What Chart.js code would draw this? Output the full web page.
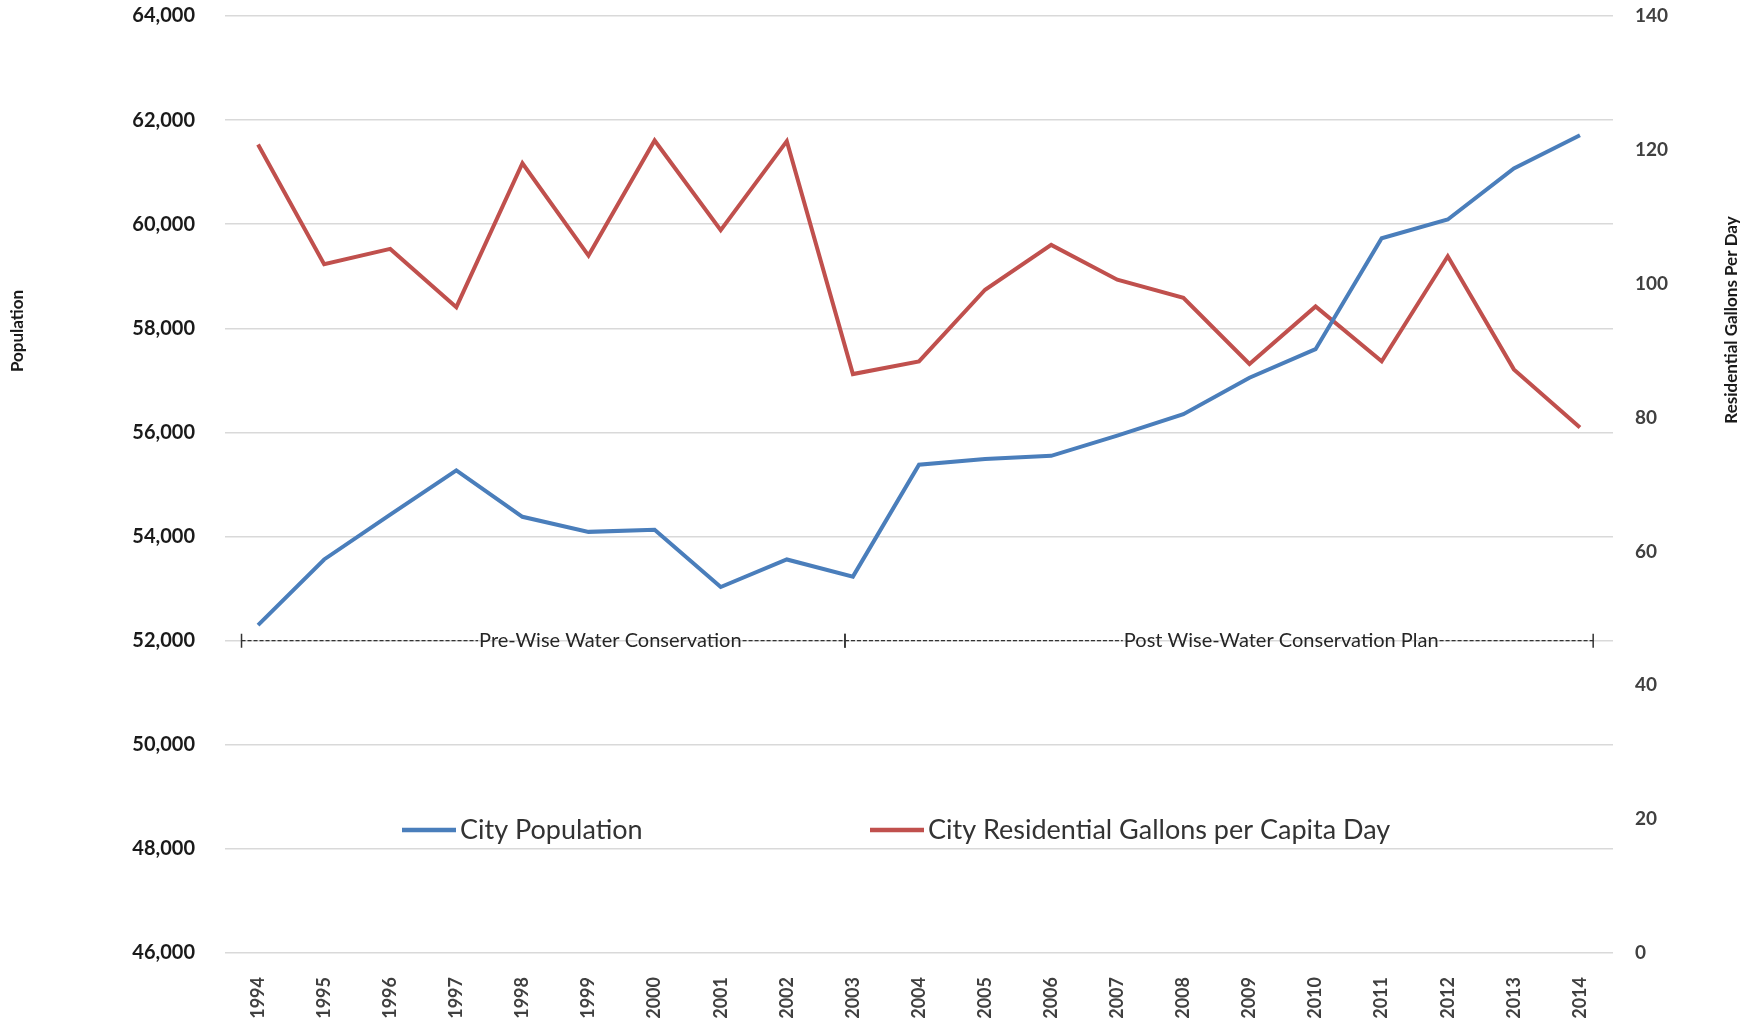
<!DOCTYPE html>
<html>
<head>
<meta charset="utf-8">
<script src="https://cdn.jsdelivr.net/npm/chart.js@4.4.1/dist/chart.umd.min.js"></script>
<style>
html, body { margin: 0; padding: 0; background: #fff; }
</style>
</head>
<body>
<canvas id="lineChart" width="1743" height="1028"></canvas>
<script>
const years = ["1994", "1995", "1996", "1997", "1998", "1999", "2000", "2001", "2002", "2003", "2004",
    "2005", "2006", "2007", "2008", "2009", "2010", "2011", "2012", "2013", "2014"];
const population = [52300, 53560, 54420, 55270, 54380, 54090, 54130, 53030, 53560, 53230, 55380,
    55490, 55550, 55940, 56350, 57050, 57600, 59730, 60090, 61070, 61710];
const gallons = [120.8, 102.9, 105.2, 96.5, 118.0, 104.2, 121.4, 108.0, 121.3, 86.5, 88.4,
    99.1, 105.8, 100.6, 97.9, 88.0, 96.6, 88.4, 104.1, 87.2, 78.5];
const seriesNames = ["City Population", "City Residential Gallons per Capita Day"];
const phaseNames = ["Pre-Wise Water Conservation", "Post Wise-Water Conservation Plan"];

// phase markers in category units: [start, end, text centre], drawn at the 52,000 level
const phases = [[-0.25, 8.88, 5.33], [8.88, 20.2, 15.48]];
const phaseLevel = 52000;

const BLUE = "#4a7ebb";
const RED = "#c0504d";

const overlay = {
    id: "overlay",
    afterDatasetsDraw(chart) {
        const ctx = chart.ctx;
        const x = chart.scales.x;
        const y = chart.scales.y.getPixelForValue(phaseLevel);
        ctx.save();
        ctx.font = "20px Lato";
        ctx.textBaseline = "middle";
        ctx.textAlign = "center";
        ctx.strokeStyle = "#333333";
        ctx.fillStyle = "#262626";
        for (let i = 0; i < phases.length; i++) {
            const x0 = x.getPixelForValue(phases[i][0]);
            const x1 = x.getPixelForValue(phases[i][1]);
            const xc = x.getPixelForValue(phases[i][2]);
            const w = ctx.measureText(phaseNames[i]).width;
            ctx.lineWidth = 1.2;
            ctx.setLineDash([4, 2]);
            ctx.beginPath();
            ctx.moveTo(x0, y); ctx.lineTo(xc - w / 2 - 1, y);
            ctx.moveTo(xc + w / 2 + 1, y); ctx.lineTo(x1, y);
            ctx.stroke();
            ctx.setLineDash([]);
            ctx.lineWidth = 1.5;
            ctx.beginPath();
            ctx.moveTo(x0, y - 7); ctx.lineTo(x0, y + 7);
            ctx.moveTo(x1, y - 7); ctx.lineTo(x1, y + 7);
            ctx.stroke();
            ctx.fillText(phaseNames[i], xc, y);
        }
        ctx.restore();
    },
    afterDraw(chart) {
        const ctx = chart.ctx;
        ctx.save();
        // legend
        const legendY = 830;
        const items = [[402, BLUE], [870, RED]];
        ctx.font = "27px Lato";
        ctx.textBaseline = "middle";
        ctx.textAlign = "left";
        for (let i = 0; i < items.length; i++) {
            ctx.strokeStyle = items[i][1];
            ctx.lineWidth = 4.5;
            ctx.beginPath();
            ctx.moveTo(items[i][0], legendY);
            ctx.lineTo(items[i][0] + 54, legendY);
            ctx.stroke();
            ctx.fillStyle = "#333333";
            ctx.fillText(seriesNames[i], items[i][0] + 58, legendY);
        }
        // axis titles
        ctx.font = "bold 17px Lato";
        ctx.fillStyle = "#1a1a1a";
        ctx.textAlign = "center";
        ctx.translate(18, 331);
        ctx.rotate(-Math.PI / 2);
        ctx.fillText("Population", 0, 0);
        ctx.restore();
        ctx.save();
        ctx.font = "bold 17px Lato";
        ctx.fillStyle = "#1a1a1a";
        ctx.textAlign = "center";
        ctx.textBaseline = "middle";
        ctx.translate(1732, 320);
        ctx.rotate(-Math.PI / 2);
        ctx.fillText("Residential Gallons Per Day", 0, 0);
        ctx.restore();
    }
};

const CHART = document.getElementById("lineChart");

let lineChart = new Chart(CHART, {
    type: "line",
    data: {
        labels: years,
        datasets: [{
            label: seriesNames[0],
            data: population,
            yAxisID: "y",
            borderColor: BLUE,
            borderWidth: 4,
            pointRadius: 0,
            tension: 0
        }, {
            label: seriesNames[1],
            data: gallons,
            yAxisID: "y1",
            borderColor: RED,
            borderWidth: 4,
            pointRadius: 0,
            tension: 0
        }]
    },
    options: {
        responsive: false,
        animation: false,
        layout: { padding: { top: 16, left: 0, right: 0, bottom: 0 } },
        plugins: {
            legend: { display: false },
            tooltip: { enabled: false }
        },
        scales: {
            x: {
                offset: true,
                grid: { display: false },
                border: { display: false },
                ticks: {
                    minRotation: 90,
                    maxRotation: 90,
                    padding: 16,
                    color: "#404040",
                    font: { family: "Lato", size: 18, weight: "bold" }
                },
                afterFit: function (scale) { scale.height = 75; }
            },
            y: {
                position: "left",
                min: 46000,
                max: 64000,
                grid: { color: "#d9d9d9", lineWidth: 1.5, drawTicks: true, tickLength: 30, tickColor: "rgba(0,0,0,0)" },
                border: { display: false },
                ticks: {
                    stepSize: 2000,
                    padding: 0,
                    color: "#1a1a1a",
                    font: { family: "Lato", size: 20, weight: "bold" },
                    callback: function (v) { return v.toLocaleString("en-US"); }
                },
                afterFit: function (scale) { scale.width = 225; }
            },
            y1: {
                position: "right",
                min: 0,
                max: 140,
                grid: { drawOnChartArea: false, drawTicks: true, tickLength: 22, tickColor: "rgba(0,0,0,0)" },
                border: { display: false },
                ticks: {
                    stepSize: 20,
                    padding: 0,
                    color: "#404040",
                    font: { family: "Lato", size: 19, weight: "bold" }
                },
                afterFit: function (scale) { scale.width = 130; }
            }
        }
    },
    plugins: [overlay]
});
</script>
</body>
</html>
